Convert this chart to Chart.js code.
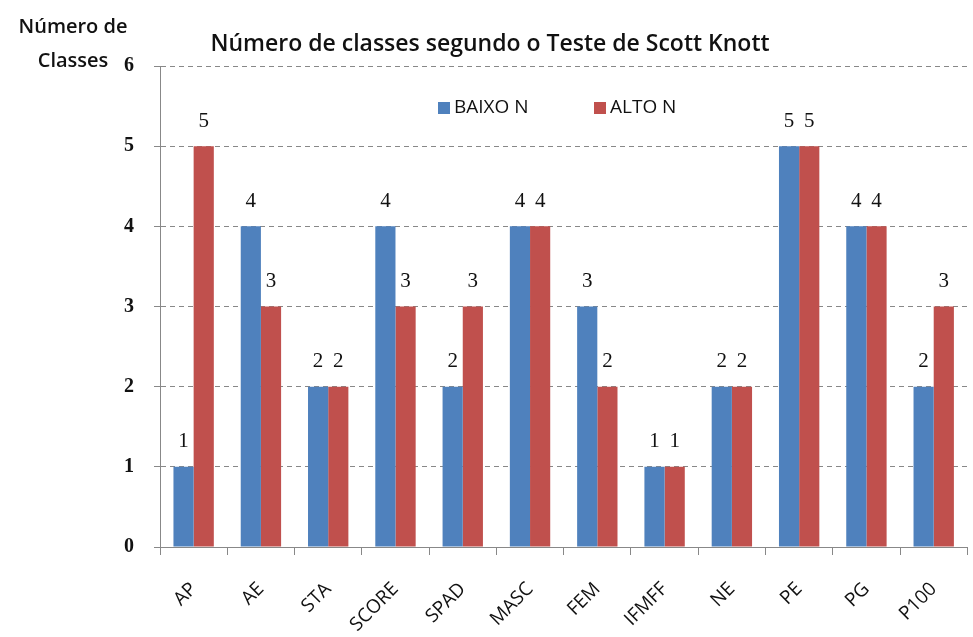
<!DOCTYPE html>
<html lang="pt-br">
<head>
    <meta charset="UTF-8">
    <title>Número de classes segundo o Teste de Scott Knott</title>
    <script src="https://cdn.jsdelivr.net/npm/chart.js"></script>
    <style>
        html, body { margin: 0; padding: 0; background: #fff; }
        #wrap { width: 973px; height: 637px; position: relative; }
    </style>
</head>
<body>
    <div id="wrap"><canvas id="grafico"></canvas></div>
    <script>
        // dados
        const categorias = ['AP', 'AE', 'STA', 'SCORE', 'SPAD', 'MASC', 'FEM', 'IFMFF', 'NE', 'PE', 'PG', 'P100'];
        const baixoN = [1, 4, 2, 4, 2, 4, 3, 1, 2, 5, 4, 2];
        const altoN = [5, 3, 2, 3, 3, 4, 2, 1, 2, 5, 4, 3];
        const ticksY = [0, 1, 2, 3, 4, 5, 6];

        const titulo = 'Número de classes segundo o Teste de Scott Knott';
        const tituloY = ['Número de', 'Classes'];

        const sans = '"Open Sans", "Liberation Sans", sans-serif';
        const serif = '"Liberation Serif", "DejaVu Serif", serif';

        // textos extras: título, rótulo do eixo Y, legenda e valores nas barras
        const textos = {
            id: 'textos',
            afterDatasetsDraw(chart) {
                const ctx = chart.ctx;
                ctx.save();
                ctx.fillStyle = '#111';
                ctx.textBaseline = 'middle';

                ctx.textAlign = 'center';
                ctx.font = '600 23px ' + sans;
                ctx.fillText(titulo, 490, 44);

                ctx.font = '600 20px ' + sans;
                ctx.fillText(tituloY[0], 73, 27);
                ctx.fillText(tituloY[1], 73, 61);

                // legenda
                ctx.font = '19px ' + sans;
                ctx.textAlign = 'left';
                const leg = [[438, 0], [594, 1]];
                leg.forEach(([x, i]) => {
                    const ds = chart.data.datasets[i];
                    ctx.fillStyle = ds.backgroundColor;
                    ctx.fillRect(x, 102, 12, 12);
                    ctx.fillStyle = '#111';
                    ctx.fillText(ds.label, x + 16, 108);
                });

                // valores
                ctx.font = '21px ' + serif;
                ctx.textAlign = 'center';
                chart.data.datasets.forEach((ds, i) => {
                    chart.getDatasetMeta(i).data.forEach((bar, j) => {
                        ctx.fillText(String(ds.data[j]), bar.x, bar.y - 25);
                    });
                });
                ctx.restore();
            }
        };

        new Chart(document.getElementById('grafico'), {
            type: 'bar',
            data: {
                labels: categorias,
                datasets: [
                    { label: 'BAIXO N', data: baixoN, backgroundColor: '#4F81BD' },
                    { label: 'ALTO N', data: altoN, backgroundColor: '#C0504D' }
                ]
            },
            options: {
                responsive: true,
                maintainAspectRatio: false,
                animation: false,
                layout: { padding: { top: 66, right: 4, left: 0, bottom: 0 } },
                datasets: { bar: { categoryPercentage: 0.6, barPercentage: 1.0 } },
                plugins: {
                    legend: { display: false },
                    title: { display: false },
                    tooltip: { enabled: false }
                },
                scales: {
                    x: {
                        afterFit(s) { s.height = 90; },
                        grid: { display: true, drawOnChartArea: false, drawTicks: true, tickLength: 8, color: '#888' },
                        border: { display: true, color: '#888', width: 1 },
                        ticks: {
                            color: '#111',
                            font: { family: sans, size: 19 },
                            minRotation: 45,
                            maxRotation: 45,
                            padding: 23
                        }
                    },
                    y: {
                        min: 0,
                        max: 6,
                        afterFit(s) { s.width = 160; },
                        afterBuildTicks(s) { s.ticks = ticksY.map(v => ({ value: v })); },
                        grid: { color: '#888', tickLength: 6, lineWidth: 1 },
                        border: { display: true, color: '#888', width: 1, dash: [5, 4] },
                        ticks: {
                            color: '#111',
                            font: { family: serif, size: 20, weight: 'bold' },
                            padding: 20
                        }
                    }
                }
            },
            plugins: [textos]
        });
    </script>
</body>
</html>
